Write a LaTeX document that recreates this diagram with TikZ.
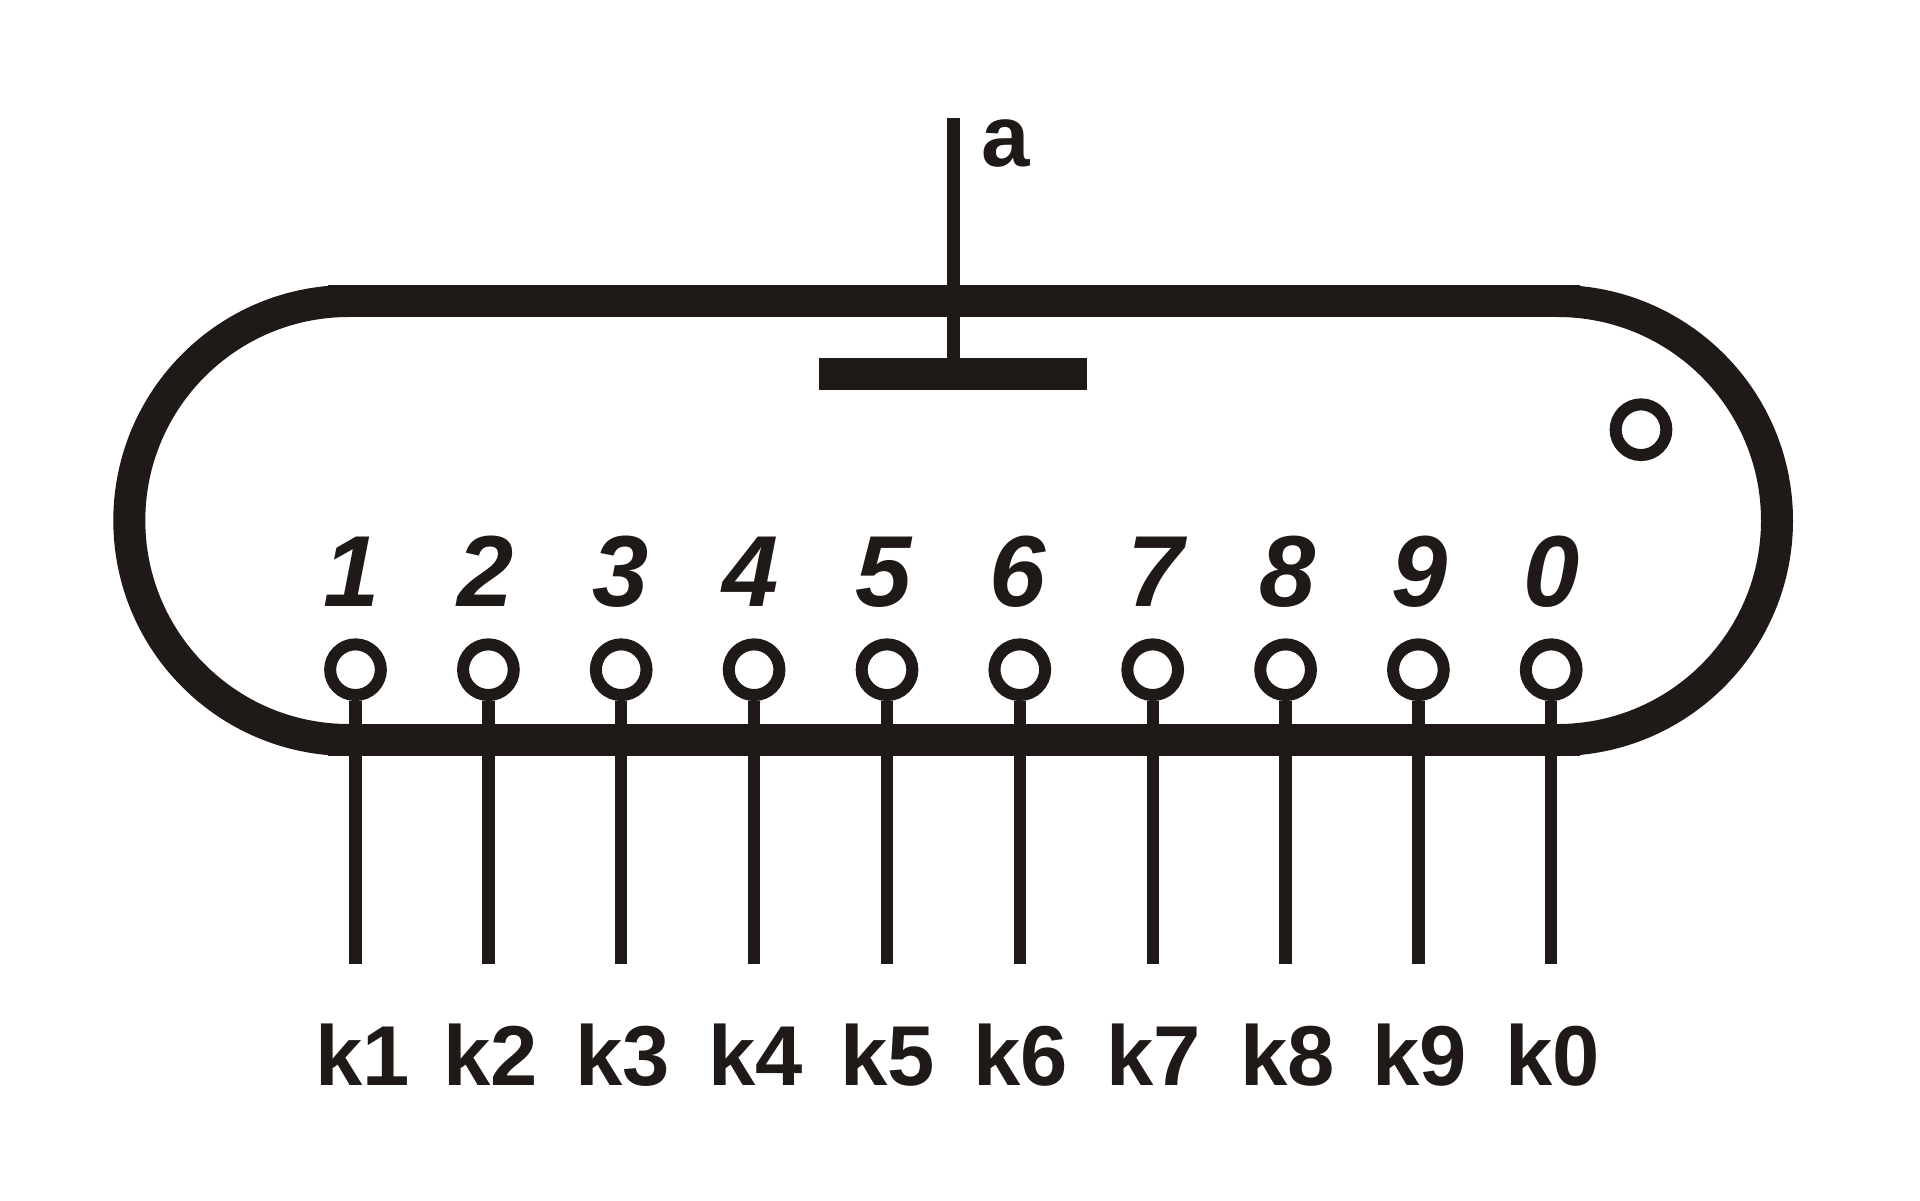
\documentclass[tikz,border=0pt]{standalone}
\usepackage{fontspec}
\setmainfont{Liberation Sans}
\definecolor{ink}{HTML}{1F1A17}
\tikzset{
  pin/.style={circle,draw=ink,line width=12pt,minimum size=50.7pt,inner sep=0pt,fill=white},
  lead/.style={draw=ink,line width=12.4pt,line cap=butt},
  glass/.style={draw=ink,line width=32pt,line cap=butt},
  digit/.style={text=ink,anchor=base,inner sep=0pt,outer sep=0pt,font=\fontsize{101}{101}\selectfont\bfseries\itshape},
  klabel/.style={text=ink,anchor=base west,inner sep=0pt,outer sep=0pt,font=\fontsize{85}{85}\selectfont\bfseries},
}
\begin{document}
\begin{tikzpicture}[x=1pt,y=-1pt]
\useasboundingbox (0,0) rectangle (1920,1200);
\fill[white] (0,0) rectangle (1920,1200);
% envelope
\draw[glass] (348.8,301) arc (270:90:219.5);
\draw[glass] (1557.5,301) arc (-90:90:219.5);
\draw[glass] (328,301) -- (1579.5,301);
\draw[glass] (328,740) -- (1579.5,740);
% anode
\coordinate (atop) at (953.3,117.7);
\node[fill=ink,inner sep=0pt,minimum width=268.3pt,minimum height=32pt] (plate) at (953.3,374.3) {};
\draw[lead] (atop) -- (plate.north);
\node[text=ink,anchor=base,inner sep=0pt,font=\fontsize{87}{87}\selectfont\bfseries] (alabel) at (1006,166) {a};
% keep-alive
\node[pin] (ka) at (1641,429.7) {};
% cathodes
\foreach \n/\px/\dx/\kx in {
  1/355.5/352/315,
  2/488.4/485.5/443,
  3/621.2/621/575.5,
  4/754.1/751/708,
  5/887/884/840,
  6/1019.8/1018/973,
  7/1152.7/1155.5/1106.5,
  8/1285.6/1288/1240,
  9/1418.4/1420/1372.5,
  0/1551.2/1552/1505}{
  \node[pin] (p\n) at (\px,669.7) {};
  \coordinate (e\n) at (\px,964);
  \draw[lead] (p\n.south) -- (e\n);
  \node[digit] (d\n) at (\dx,606.5) {\n};
  \node[klabel] (k\n) at (\kx,1085.7) {k\n};
}
\end{tikzpicture}
\end{document}
